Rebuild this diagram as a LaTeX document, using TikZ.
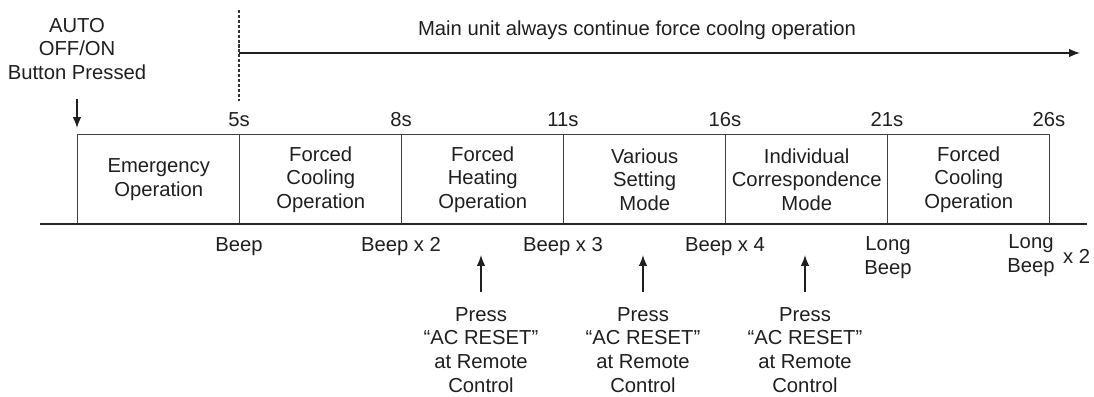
\documentclass[tikz,border=0pt]{standalone}
\usepackage{fontspec}
\setmainfont{Liberation Sans}
\usetikzlibrary{positioning,arrows.meta}

\tikzset{
  lbl/.style={align=center, font=\fontsize{14.4}{17}\selectfont, text=black!88, inner sep=0pt},
  cell/.style={lbl, draw=black!75, line width=1pt, minimum width=4.05cm, minimum height=2.25cm, anchor=north west},
  tip/.style={-{Latex[length=2.7mm,width=2.1mm]}, line width=1pt, draw=black!88},
}

\begin{document}
\begin{tikzpicture}[x=0.025cm, y=-0.025cm]
  \useasboundingbox (0,0) rectangle (1094,396);

  % Button pressed (top left)
  \node[lbl] (auto) at (77,49) {AUTO\\OFF/ON\\Button Pressed};

  % Mode cells
  \node[cell] (c1) at (77,134) {Emergency\\Operation};
  \node[cell] (c2) at (239,134) {Forced\\Cooling\\Operation};
  \node[cell] (c3) at (401,134) {Forced\\Heating\\Operation};
  \node[cell] (c4) at (563,134) {Various\\Setting\\Mode};
  \node[cell] (c5) at (725,134) {Individual\\Correspondence\\Mode};
  \node[cell] (c6) at (887,134) {Forced\\Cooling\\Operation};
  \draw[tip, shorten <=0.47cm, shorten >=0.15cm] (auto.south) -- (c1.north west);

  % Time marks
  \node[lbl] (t5) at (239,120) {5s};
  \node[lbl] (t8) at (401,120) {8s};
  \node[lbl] (t11) at (563,120) {11s};
  \node[lbl] (t16) at (725,120) {16s};
  \node[lbl] (t21) at (887,120) {21s};
  \node[lbl] (t26) at (1049,120) {26s};

  % Force cooling bar
  \coordinate (d0) at (239,10);
  \coordinate (d1) at (239,101);
  \draw[black!80, line width=1pt, dash pattern=on 2.2pt off 1.3pt] (d0) -- (d1);
  \coordinate (m0) at (239,53);
  \coordinate (m1) at (1080,53);
  \draw[tip] (m0) -- (m1);
  \node[lbl] (main) at (637,30) {Main unit always continue force coolng operation};

  % Base line
  \coordinate (L0) at (40,224);
  \coordinate (L1) at (1087,224);
  \draw[black!85, line width=1.6pt] (L0) -- (L1);

  % Beeps
  \node[lbl] (b5) at (239,247) {Beep};
  \node[lbl] (b8) at (401,247) {Beep x 2};
  \node[lbl] (b11) at (563,247) {Beep x 3};
  \node[lbl] (b16) at (725,247) {Beep x 4};
  \node[lbl] (b21) at (888,258) {Long\\Beep};
  \node[lbl] (b26) at (1031,256) {Long\\Beep};
  \node[lbl, right=0.2cm of b26] (x2) {x 2};

  % AC RESET presses
  \node[lbl] (p1) at (481,350) {Press\\``AC RESET''\\at Remote\\Control};
  \node[lbl] (p2) at (643,350) {Press\\``AC RESET''\\at Remote\\Control};
  \node[lbl] (p3) at (805,350) {Press\\``AC RESET''\\at Remote\\Control};
  \coordinate (a1) at (481,255);
  \coordinate (a2) at (643,255);
  \coordinate (a3) at (805,255);
  \draw[tip, shorten <=0.37cm] (p1.north) -- (a1);
  \draw[tip, shorten <=0.37cm] (p2.north) -- (a2);
  \draw[tip, shorten <=0.37cm] (p3.north) -- (a3);
\end{tikzpicture}
\end{document}
